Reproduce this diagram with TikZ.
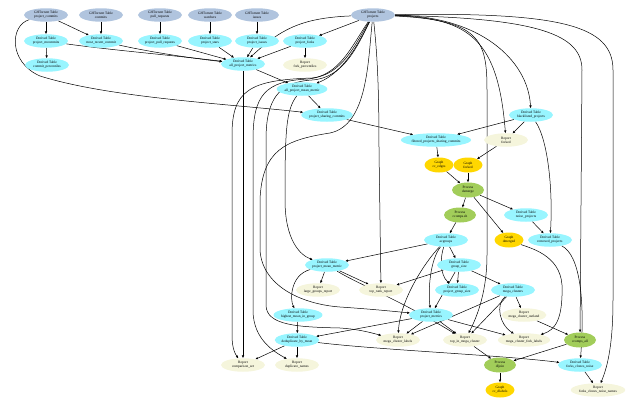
\documentclass[tikz,border=0pt]{standalone}
\usepackage{fontspec}
\setmainfont{Liberation Serif}
\usetikzlibrary{shapes.geometric,arrows.meta}
\definecolor{ghtc}{HTML}{B0C4DE}
\definecolor{derc}{HTML}{98F5FF}
\definecolor{repc}{HTML}{F5F5DC}
\definecolor{grac}{HTML}{FFD700}
\definecolor{proc}{HTML}{A2CD5A}
\pgfdeclarelayer{bg}
\pgfsetlayers{bg,main}
\tikzset{
 nd/.style={ellipse, inner xsep=0.4pt, inner ysep=0.3pt, minimum height=13.5pt, minimum width=44pt, align=center, font=\fontsize{3.5}{4}\selectfont},
 ght/.style={nd, fill=ghtc},
 der/.style={nd, fill=derc},
 rep/.style={nd, fill=repc},
 gra/.style={nd, fill=grac, minimum width=29pt, minimum height=15pt},
 pro/.style={nd, fill=proc, minimum width=32pt, minimum height=15pt},
 e/.style={-{Triangle[length=2.6pt,width=2.2pt]}, line width=0.5pt},
}
\begin{document}
\begin{tikzpicture}[x=1pt,y=-1pt]
\useasboundingbox (0,0) rectangle (633,400);
% top row
\node[ght] (gpc) at (46,15) {GHTorrent Table\\project\_commits};
\node[ght] (gcom) at (101,15) {GHTorrent Table\\commits};
\node[ght] (gpr) at (160,15) {GHTorrent Table\\pull\_requests};
\node[ght] (gwat) at (210,15) {GHTorrent Table\\watchers};
\node[ght] (giss) at (257,15) {GHTorrent Table\\issues};
\node[ght] (gprj) at (373,15) {GHTorrent Table\\projects};
% row 2
\node[der] (pmc) at (46,41) {Derived Table\\project\_mcommits};
\node[der] (mrc) at (101,41) {Derived Table\\most\_recent\_commit};
\node[der] (ppr) at (160,41) {Derived Table\\project\_pull\_requests};
\node[der] (pst) at (210,41) {Derived Table\\project\_stars};
\node[der] (pis) at (257,41) {Derived Table\\project\_issues};
\node[der] (pfk) at (305,41) {Derived Table\\project\_forks};
\node[der] (cpc) at (47,65) {Derived Table\\commit\_percentiles};
\node[rep] (fpc) at (305,65) {Report\\fork\_percentiles};
\node[der] (apm) at (243,64) {Derived Table\\all\_project\_metrics};
\node[der] (apmm) at (302,89) {Derived Table\\all\_project\_mean\_metric};
\node[der] (psc) at (327,115) {Derived Table\\project\_sharing\_commits};
\node[der] (blp) at (531,115) {Derived Table\\blacklisted\_projects};
\node[der] (fpsc) at (436,140) {Derived Table\\filtered\_projects\_sharing\_commits};
\node[rep] (rfk) at (506,140) {Report\\forked};
\node[gra] (cce) at (439,165) {Graph\\cc\_edges};
\node[gra] (gfk) at (468,165) {Graph\\forked};
\node[pro] (dsm) at (468,190) {Process\\dsmerge};
\node[pro] (ccs) at (460,215) {Process\\ccomps.sh};
\node[der] (nop) at (526,215) {Derived Table\\noise\_projects};
\node[der] (acg) at (446,240) {Derived Table\\acgroups};
\node[gra] (dmg) at (509,240) {Graph\\dmerged};
\node[der] (rmp) at (550,240) {Derived Table\\removed\_projects};
\node[der] (pmm) at (327,265) {Derived Table\\project\_mean\_metric};
\node[der] (gsz) at (459,265) {Derived Table\\group\_size};
\node[rep] (lgr) at (318,290) {Report\\large\_groups\_report};
\node[rep] (trr) at (381,290) {Report\\top\_rank\_report};
\node[der] (pgs) at (457,290) {Derived Table\\project\_group\_size};
\node[der] (mgc) at (513,290) {Derived Table\\mega\_clusters};
\node[der] (hmg) at (298,315) {Derived Table\\highest\_mean\_in\_group};
\node[der] (pme) at (431,315) {Derived Table\\project\_metrics};
\node[rep] (mco) at (524,315) {Report\\mega\_cluster\_outland};
\node[der] (dbm) at (297,340) {Derived Table\\deduplicate\_by\_mean};
\node[rep] (mcl) at (398,340) {Report\\mega\_cluster\_labels};
\node[rep] (tmc) at (465,340) {Report\\top\_in\_mega\_cluster};
\node[rep] (mcf) at (524,340) {Report\\mega\_cluster\_fork\_labels};
\node[pro] (cca) at (580,340) {Process\\ccomps\_all};
\node[rep] (cmp) at (243,365) {Report\\comparison\_set};
\node[rep] (dpn) at (297,365) {Report\\duplicate\_names};
\node[pro] (djn) at (500,365) {Process\\dljoin};
\node[der] (fcn) at (580,365) {Derived Table\\forks\_clones\_noise};
\node[gra] (ccd) at (500,390) {Graph\\cc\_dlabels};
\node[rep] (fcnn) at (598,390) {Report\\forks\_clones\_noise\_names};
\begin{pgfonlayer}{bg}
% edges: top
\draw[e] (gpc) -- (pmc);
\draw[e] (gpc) -- (mrc);
\draw[e] (gpc) .. controls (10,25) and (8,62) .. (40,76) .. controls (110,98) and (230,104) .. (psc);
\draw[e] (gcom) -- (mrc);
\draw[e] (gpr) -- (ppr);
\draw[e] (gwat) -- (pst);
\draw[e] (giss) -- (pis);
\draw[e] (pmc) -- (cpc);
\draw[e] (pmc) .. controls (110,50) and (180,56) .. (apm);
\draw[e] (mrc) .. controls (150,52) and (190,58) .. (apm);
\draw[e] (ppr) -- (apm);
\draw[e] (pst) -- (apm);
\draw[e] (pis) -- (apm);
\draw[e] (pfk) -- (apm);
\draw[e] (pfk) -- (fpc);
\draw[e] (gprj) -- (pfk);
\draw[e] (gprj) .. controls (300,18) and (280,30) .. (apm);
\draw[e] (gprj) .. controls (360,40) and (345,72) .. (apmm);
\draw[e] (apm) -- (apmm);
\draw[e] (apmm) -- (psc);
\draw[e] (psc) -- (fpsc);
\draw[e] (blp) -- (fpsc);
\draw[e] (blp) -- (rfk);
\draw[e] (gprj) .. controls (470,18) and (498,40) .. (rfk);
\draw[e] (gprj) .. controls (480,16) and (528,60) .. (blp);
\draw[e] (blp) .. controls (548,140) and (553,190) .. (rmp);
% bundle from projects to the left
\draw[e] (gprj) .. controls (355,45) and (342,75) .. (312,78) .. controls (250,80) and (232,90) .. (232,135) -- (232,335) .. controls (232,350) and (236,355) .. (cmp);
\draw[e] (apm) -- (cmp);
\draw[e] (gprj) .. controls (352,45) and (340,76) .. (308,79) .. controls (265,81) and (253,95) .. (253,140) -- (253,310) .. controls (253,340) and (275,352) .. (dpn);
\draw[e] (gprj) .. controls (368,60) and (368,125) .. (330,133) .. controls (285,140) and (262,150) .. (260,200) -- (260,250) .. controls (262,285) and (300,304) .. (340,307) .. controls (370,309) and (390,311) .. (pme);
\draw[e] (gprj) .. controls (358,45) and (344,78) .. (312,80) .. controls (278,82) and (266,100) .. (266,140) -- (266,305) .. controls (266,326) and (300,327) .. (340,328) .. controls (355,329) and (365,331) .. (mcl);
\draw[e] (apmm) .. controls (286,110) and (285,130) .. (285,200) .. controls (285,240) and (300,255) .. (pmm);
\draw[e] (gprj) .. controls (378,60) and (379,100) .. (379,150) -- (trr);
% right side long lines
\draw[e] (gprj) .. controls (480,20) and (487,40) .. (487,90) -- (487,255) .. controls (487,290) and (478,315) .. (tmc);
\draw[e] (gprj) .. controls (540,18) and (582,35) .. (582,70) -- (cca);
\draw[e] (gprj) .. controls (560,12) and (613,25) .. (613,70) -- (613,300) .. controls (613,350) and (606,370) .. (fcnn);
% middle chain
\draw[e] (fpsc) -- (cce);
\draw[e] (rfk) -- (gfk);
\draw[e] (cce) -- (dsm);
\draw[e] (gfk) -- (dsm);
\draw[e] (dsm) -- (ccs);
\draw[e] (dsm) -- (nop);
\draw[e] (dsm) -- (dmg);
\draw[e] (nop) -- (rmp);
\draw[e] (ccs) -- (acg);
\draw[e] (acg) -- (pmm);
\draw[e] (acg) -- (gsz);
\draw[e] (acg) .. controls (440,258) and (440,275) .. (pgs);
\draw[e] (acg) .. controls (430,260) and (428,290) .. (pme);
\draw[e] (acg) .. controls (425,262) and (400,300) .. (mcl);
\draw[e] (pmm) -- (lgr);
\draw[e] (pmm) -- (trr);
\draw[e] (pmm) .. controls (290,275) and (290,300) .. (hmg);
\draw[e] (pmm) .. controls (360,285) and (400,300) .. (tmc);
\draw[e] (gsz) -- (trr);
\draw[e] (gsz) -- (pgs);
\draw[e] (gsz) -- (mgc);
\draw[e] (gsz) -- (pme);
\draw[e] (mgc) -- (mco);
\draw[e] (mgc) -- (mcl);
\draw[e] (mgc) -- (tmc);
\draw[e] (mgc) .. controls (495,305) and (500,325) .. (mcf);
\draw[e] (pme) -- (dbm);
\draw[e] (pme) -- (mcl);
\draw[e] (pme) -- (tmc);
\draw[e] (pme) -- (mcf);
\draw[e] (mco) -- (cca);
\draw[e] (cca) -- (djn);
\draw[e] (tmc) -- (djn);
\draw[e] (djn) -- (ccd);
\draw[e] (hmg) -- (dbm);
\draw[e] (dbm) -- (cmp);
\draw[e] (dbm) -- (dpn);
\draw[e] (dbm) .. controls (380,350) and (500,355) .. (fcn);
\draw[e] (fcn) -- (fcnn);
\draw[e] (rmp) .. controls (580,255) and (585,300) .. (fcn);
\draw[e] (dmg) .. controls (530,248) and (560,255) .. (562,285) .. controls (563,320) and (555,330) .. (mcf);
\end{pgfonlayer}
\end{tikzpicture}
\end{document}
